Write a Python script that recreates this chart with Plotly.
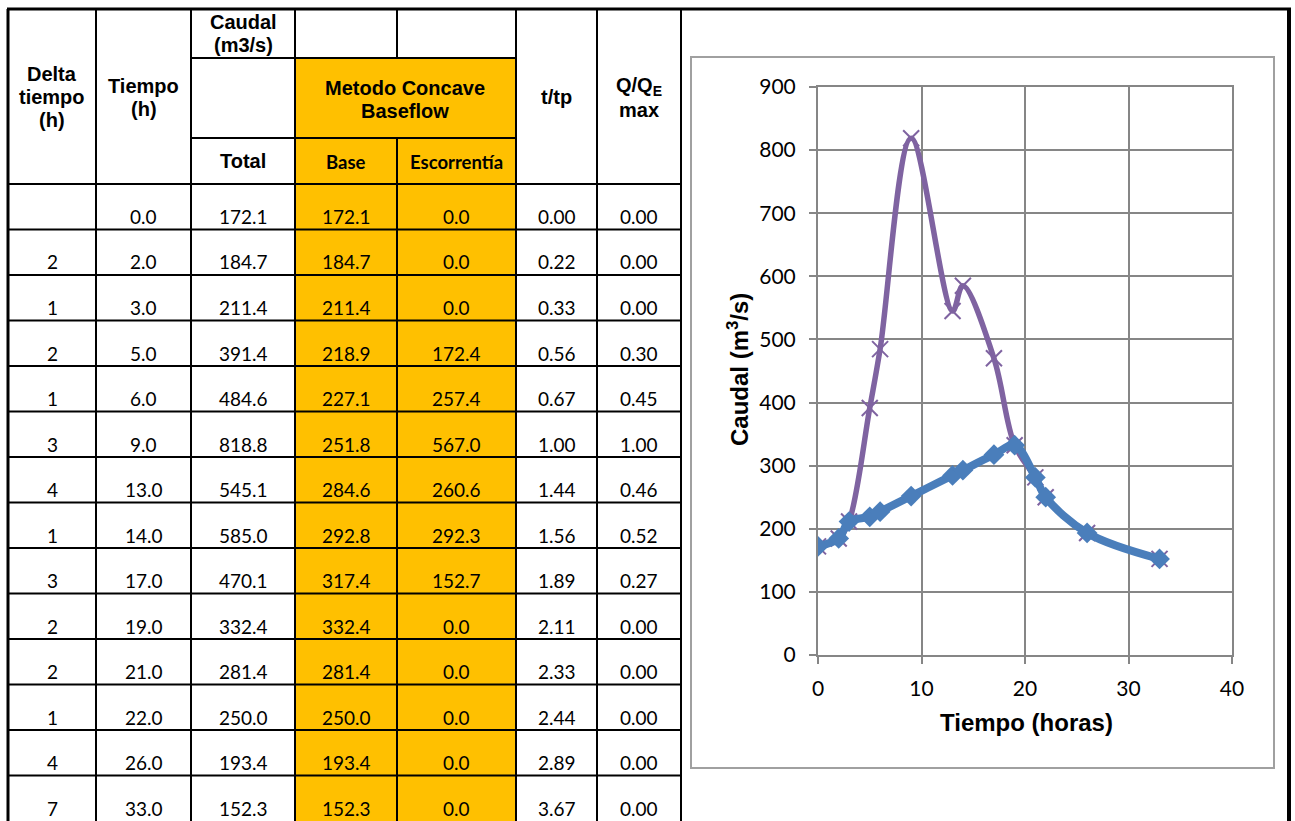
import plotly.graph_objects as go

# ---- data -------------------------------------------------------------
delta_tiempo = ["", "2", "1", "2", "1", "3", "4", "1", "3", "2", "2", "1", "4", "7"]
tiempo = [0.0, 2.0, 3.0, 5.0, 6.0, 9.0, 13.0, 14.0, 17.0, 19.0, 21.0, 22.0, 26.0, 33.0]
caudal_total = [172.1, 184.7, 211.4, 391.4, 484.6, 818.8, 545.1, 585.0, 470.1,
                332.4, 281.4, 250.0, 193.4, 152.3]
caudal_base = [172.1, 184.7, 211.4, 218.9, 227.1, 251.8, 284.6, 292.8, 317.4,
               332.4, 281.4, 250.0, 193.4, 152.3]
escorrentia = [0.0, 0.0, 0.0, 172.4, 257.4, 567.0, 260.6, 292.3, 152.7,
               0.0, 0.0, 0.0, 0.0, 0.0]
t_tp = [0.00, 0.22, 0.33, 0.56, 0.67, 1.00, 1.44, 1.56, 1.89, 2.11, 2.33, 2.44, 2.89, 3.67]
q_qe_max = [0.00, 0.00, 0.00, 0.30, 0.45, 1.00, 0.46, 0.52, 0.27,
            0.00, 0.00, 0.00, 0.00, 0.00]

x_ticks = [0, 10, 20, 30, 40]
y_ticks = [0, 100, 200, 300, 400, 500, 600, 700, 800, 900]

# ---- page geometry (pixels) ------------------------------------------
W, H = 1295, 821


def px(x):
    return x / W


def py(y):
    return 1 - y / H


col_edges = [8, 96, 191, 295, 397, 516, 597, 681]
col_centers = [(a + b) / 2 for a, b in zip(col_edges[:-1], col_edges[1:])]
head_top, head_mid1, head_mid2, head_bot = 9, 58, 138, 184
row_h = 45.5
page_bottom = H

ORANGE = "#FFC000"
PURPLE = "#7F63A1"
BLUE = "#4A7EBB"
GRID = "#868686"

shapes = []
annotations = []


def hline(y, x0, x1, w=2, color="black"):
    shapes.append(dict(type="line", xref="paper", yref="paper",
                       x0=px(x0), x1=px(x1), y0=py(y), y1=py(y),
                       line=dict(color=color, width=w)))


def vline(x, y0, y1, w=2, color="black"):
    shapes.append(dict(type="line", xref="paper", yref="paper",
                       x0=px(x), x1=px(x), y0=py(y0), y1=py(y1),
                       line=dict(color=color, width=w)))


def text(x, y, s, size=19, family="Lato", bold=False, **kw):
    if bold:
        s = "<b>" + s + "</b>"
    annotations.append(dict(xref="paper", yref="paper", x=px(x), y=py(y),
                            text=s, showarrow=False, xanchor="center",
                            yanchor="middle",
                            font=dict(family=family, size=size, color="black"),
                            **kw))


def text_lines(x, y_first, lines, spacing=23, **kw):
    for k, s in enumerate(lines):
        text(x, y_first + spacing * k, s, **kw)


# orange block for the baseflow columns
shapes.append(dict(type="rect", xref="paper", yref="paper", layer="below",
                   x0=px(col_edges[3]), x1=px(col_edges[5]),
                   y0=py(head_mid1), y1=py(page_bottom),
                   fillcolor=ORANGE, line=dict(width=0)))

# table grid
for k, x in enumerate(col_edges):
    if x == 397:
        vline(x, head_top, head_mid1)
        vline(x, head_mid2, page_bottom)
    elif k == 0:
        vline(x, head_top, page_bottom, w=3)
    else:
        vline(x, head_top, page_bottom)
hline(head_mid1, 191, 516)
hline(head_mid2, 191, 516)
hline(head_bot, 8, 681)
n_rows = len(tiempo)
for i in range(1, n_rows):
    hline(head_bot + row_h * i, 8, 681)

# outer frame
hline(head_top, 7, 1291, w=3)
vline(1289, head_top, page_bottom, w=4)

# chart area frame
shapes.append(dict(type="rect", xref="paper", yref="paper",
                   x0=px(691), x1=px(1274), y0=py(768), y1=py(57),
                   line=dict(color="#A0A0A0", width=2)))

# header texts
AR = "Liberation Sans"
HS = 20
text_lines(col_centers[0], 74, ["Delta", "tiempo", "(h)"], size=HS, family=AR, bold=True)
text_lines(col_centers[1], 86, ["Tiempo", "(h)"], size=HS, family=AR, bold=True)
text_lines(col_centers[2], 22, ["Caudal", "(m3/s)"], size=HS, family=AR, bold=True)
text_lines((col_edges[3] + col_edges[5]) / 2, 88, ["Metodo Concave", "Baseflow"],
           size=HS, family=AR, bold=True)
text(col_centers[2], 161, "Total", size=HS, family=AR, bold=True)
text(col_centers[3], 162, "Base", size=18.5, family="Lato", bold=True)
text(col_centers[4], 162, "Escorrentía", size=18.5, family="Lato", bold=True)
text(col_centers[5], 97, "t/tp", size=HS, family=AR, bold=True)
text_lines(col_centers[6], 87, ["Q/Q<sub>E</sub>", "max"], size=HS, family=AR, bold=True)

# body texts
for i in range(n_rows):
    yc = head_bot + row_h * (i + 1) - 13
    row = [delta_tiempo[i], f"{tiempo[i]:.1f}", f"{caudal_total[i]:.1f}",
           f"{caudal_base[i]:.1f}", f"{escorrentia[i]:.1f}",
           f"{t_tp[i]:.2f}", f"{q_qe_max[i]:.2f}"]
    for c, s in enumerate(row):
        if s:
            text(col_centers[c], yc, s, size=19)

# axis titles
text(738, 370, "Caudal (m<sup>3</sup>/s)", size=24, family=AR, bold=True,
     textangle=-90)
text(1026, 722, "Tiempo (horas)", size=24, family=AR, bold=True)

# ---- chart -----------------------------------------------------------
fig = go.Figure()
fig.add_trace(go.Scatter(
    x=tiempo, y=caudal_total, mode="lines+markers", name="Total",
    line=dict(color=PURPLE, width=5.5, shape="spline", smoothing=1),
    marker=dict(symbol="x-thin", size=16, line=dict(color=PURPLE, width=2)),
    showlegend=False))
fig.add_trace(go.Scatter(
    x=tiempo, y=caudal_base, mode="lines+markers", name="Base",
    line=dict(color=BLUE, width=8, shape="spline", smoothing=1),
    marker=dict(symbol="diamond", size=16, color=BLUE),
    showlegend=False))

axis_common = dict(showgrid=True, gridcolor=GRID, gridwidth=2,
                   showline=True, linecolor=GRID, linewidth=2, mirror=True,
                   ticks="outside", ticklen=7, tickcolor=GRID, tickwidth=2,
                   zeroline=False, automargin=False,
                   tickfont=dict(family="Lato", size=21, color="black"))

fig.update_layout(
    template="none",
    width=W, height=H, autosize=False,
    margin=dict(l=0, r=0, t=0, b=0, pad=0, autoexpand=False),
    paper_bgcolor="white", plot_bgcolor="white",
    xaxis=dict(domain=[px(818), px(1232)], range=[0, 40],
               tickvals=x_ticks, ticktext=[str(v) for v in x_ticks],
               ticklabelstandoff=7, **axis_common),
    yaxis=dict(domain=[py(655), py(87)], range=[0, 900],
               tickvals=y_ticks, ticktext=[str(v) for v in y_ticks],
               ticklabelstandoff=9, **axis_common),
    shapes=shapes,
    annotations=annotations,
)

fig.write_html(
    "out.html",
    post_script="document.body.style.margin='0';document.body.style.overflow='hidden';",
)
